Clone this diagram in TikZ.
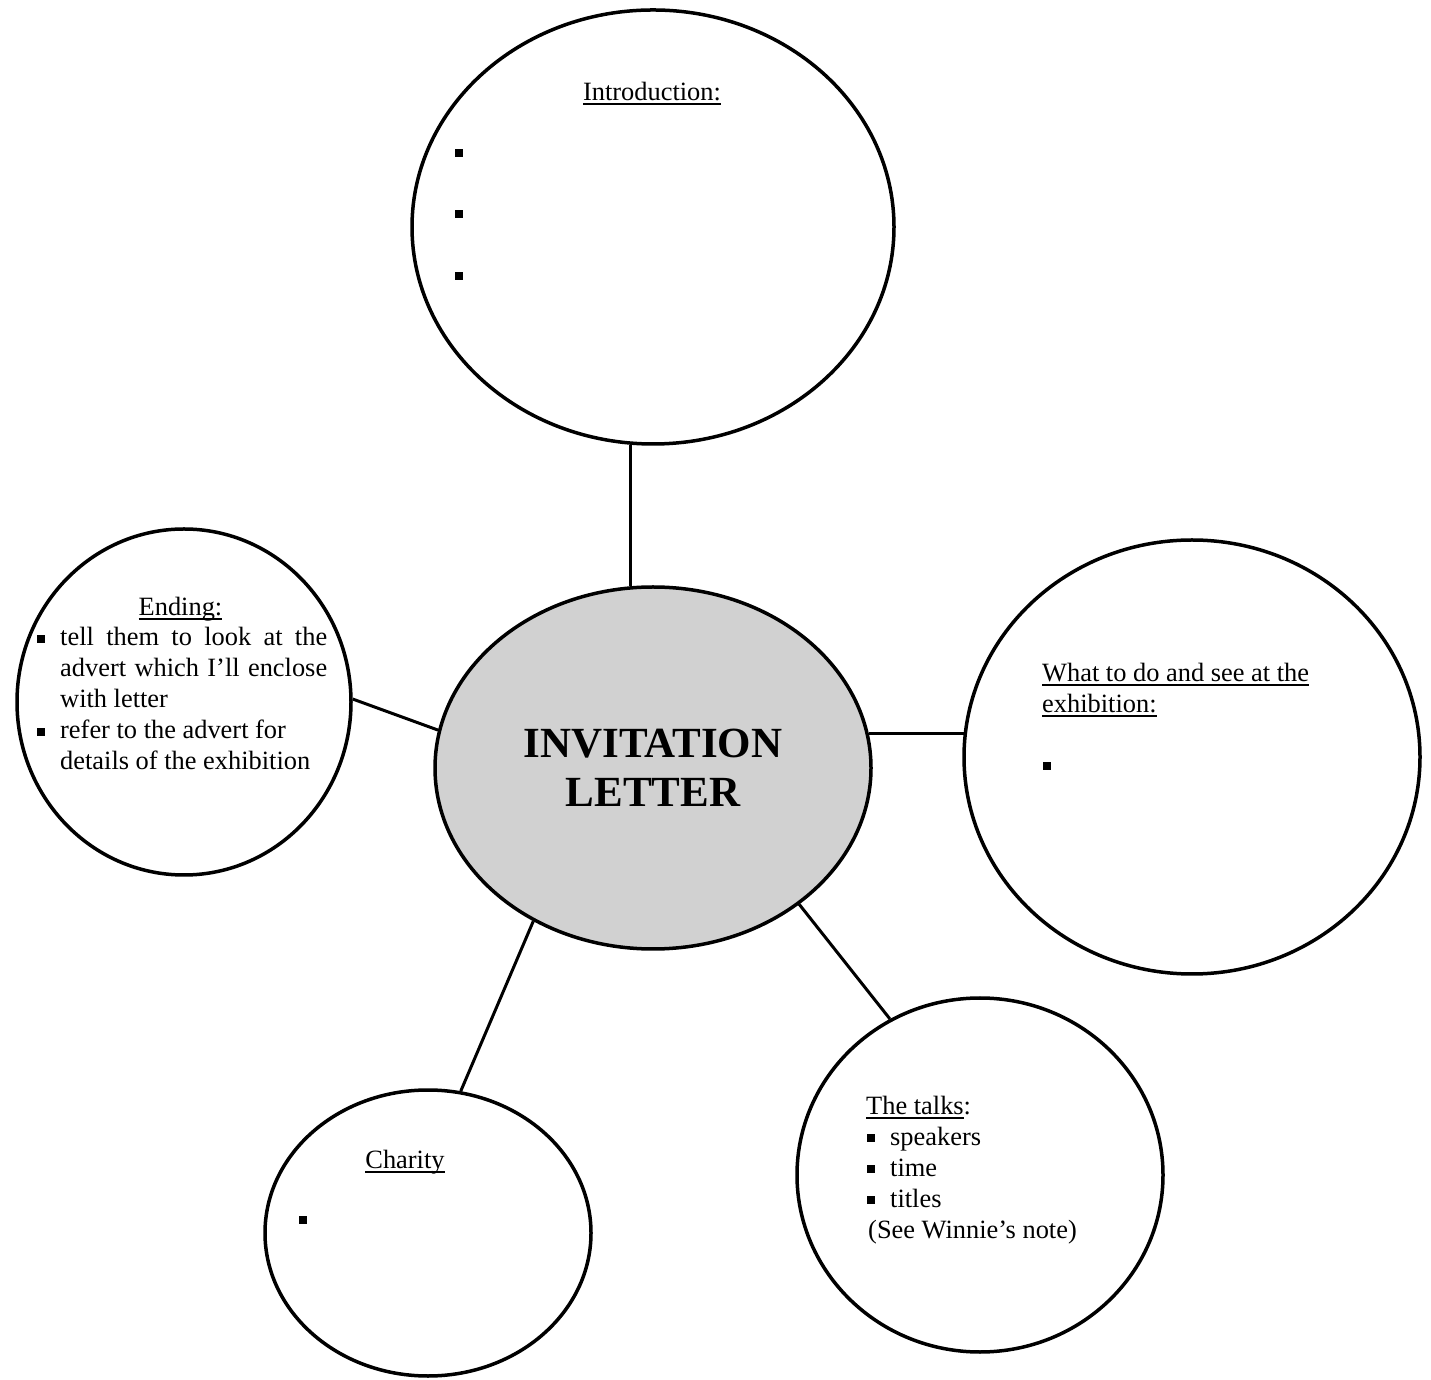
\documentclass[tikz,border=0pt]{standalone}
\usepackage{fontspec}
\setmainfont{Liberation Serif}
\usetikzlibrary{shapes.geometric}

\setlength{\parindent}{0pt}
\newsavebox{\undrbox}
\newcommand{\undr}[1]{\leavevmode\sbox{\undrbox}{#1}%
    \rlap{\rule[-4.5pt]{\wd\undrbox}{2pt}}\usebox{\undrbox}}
\newcommand{\sqb}{\rule[3pt]{8pt}{8pt}}

\begin{document}
\begin{tikzpicture}[
            x=1pt, y=1pt,
            bubble/.style = {
                draw, ellipse, line width=3.5pt, inner sep=0pt
            },
            link/.style = {line width=3pt},
            txt/.style = {inner sep=0pt, font=\fontsize{26.4}{31}\selectfont},
            head/.style = {txt, anchor=base},
            list/.style = {txt, anchor=base west, align=justify},
            dot/.style = {fill, inner sep=0pt, minimum size=8pt}
            ]
            \useasboundingbox (0,0) rectangle (1431,1379);

            % Bubbles
            \node[bubble, minimum width=436pt, minimum height=362pt, fill=black!18,
                  align=center, font=\fontsize{43}{49}\selectfont\bfseries]
                  (letter) at (653,611) {INVITATION\\LETTER};
            \node[bubble, minimum width=482pt, minimum height=434pt] (intro)   at (653,1152) {};
            \node[bubble, minimum width=334pt, minimum height=346pt] (ending)  at (184,677)  {};
            \node[bubble, minimum width=456pt, minimum height=434pt] (whatto)  at (1192,622) {};
            \node[bubble, minimum width=366pt, minimum height=354pt] (talks)   at (980,204)  {};
            \node[bubble, minimum width=326pt, minimum height=286pt] (charity) at (428,146)  {};

            % Links
            \draw[link] (letter.97.8)   -- (letter.97.8 |- intro.264);
            \draw[link] (ending.1)      -- (letter.170.3);
            \draw[link] (letter.9.7)    -- (letter.9.7 -| whatto.174);
            \draw[link] (letter.317.4)  -- (talks.120);
            \draw[link] (letter.232.6)  -- (charity.77.6);

            % Introduction
            \node[head] (introhead) at (652,1278) {\undr{Introduction:}};
            \node[dot] (intro1) at (459,1226) {};
            \node[dot] (intro2) at (459,1165) {};
            \node[dot] (intro3) at (459,1103) {};

            % Ending
            \node[head] (endhead) at (180.5,763) {\undr{Ending:}};
            \node[list, text width=290pt] (endlist) at (37,733) {%
                \hangindent=23pt\hangafter=1\noindent\makebox[23pt][l]{\sqb}tell them to look at the\linebreak
                advert which I'll enclose\linebreak with letter\par
                \hangindent=23pt\hangafter=1\noindent\makebox[23pt][l]{\sqb}refer to the advert for\hfill\break
                details of the exhibition\par};

            % What to do
            \node[list, text width=290pt] (whathead) at (1042,697)
                {\undr{What to do and see at the}\par\undr{exhibition:}};
            \node[dot] (what1) at (1047,613) {};

            % Talks
            \node[list, text width=300pt] (talklist) at (866,265) {%
                \undr{The talks}:\par
                \makebox[24pt][l]{\hspace{1pt}\sqb}speakers\par
                \makebox[24pt][l]{\hspace{1pt}\sqb}time\par
                \makebox[24pt][l]{\hspace{1pt}\sqb}titles\par
                \hspace{2pt}(See Winnie's note)};

            % Charity
            \node[head] (charhead) at (405,211) {\undr{Charity}};
            \node[dot] (char1) at (303,159) {};
        \end{tikzpicture}
\end{document}
